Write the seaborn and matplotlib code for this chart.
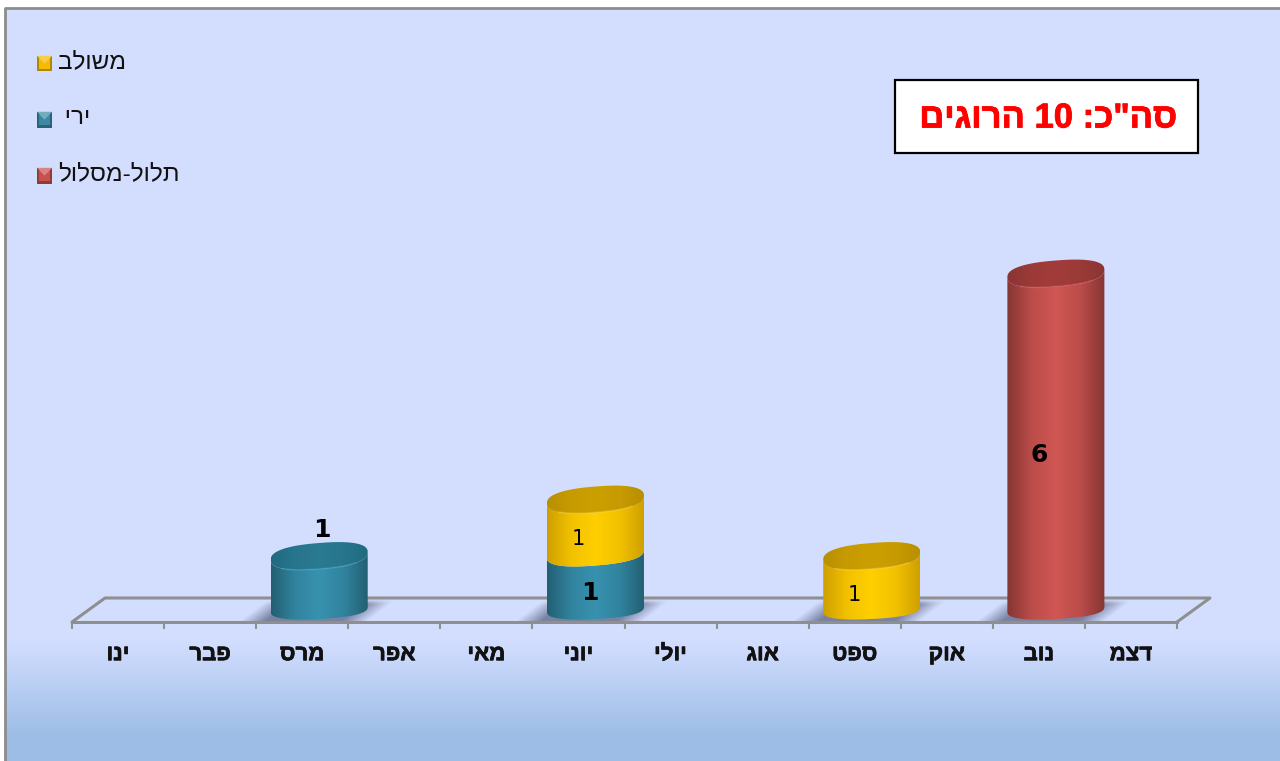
import re

import numpy as np
import matplotlib
matplotlib.use('Agg')
import matplotlib.pyplot as plt
import matplotlib.patheffects as pe
import seaborn as sns
from matplotlib.colors import LinearSegmentedColormap, to_rgb
from matplotlib.legend_handler import HandlerBase
from matplotlib.patches import Patch, PathPatch, Polygon, Rectangle
from matplotlib.path import Path

months = ['ינו', 'פבר', 'מרס', 'אפר', 'מאי', 'יוני', 'יולי', 'אוג', 'ספט', 'אוק', 'נוב', 'דצמ']
shooting = [0, 0, 1, 0, 0, 1, 0, 0, 0, 0, 0, 0]
combined = [0, 0, 0, 0, 0, 1, 0, 0, 1, 0, 0, 0]
high_traj = [0, 0, 0, 0, 0, 0, 0, 0, 0, 0, 6, 0]
shooting_name = 'ירי '
combined_name = 'משולב'
high_traj_name = 'תלול-מסלול'
total_text = 'סה"כ: 10 הרוגים'

W, H = 1280, 761
PX = (1177 - 72) / 12  # pixels per category
PY = 56.5              # pixels per unit
Y0_PX = 612.5          # pixel row of value 0 on the cylinders


def heb(s):
    # matplotlib has no bidi, so flip to visual order but keep numbers readable
    return re.sub(r'\d+', lambda m: m.group()[::-1], s[::-1])


def cyl_cmap(edge, mid):
    e, m = np.array(to_rgb(edge)), np.array(to_rgb(mid))
    shoulder = e + (m - e) * 0.72
    return LinearSegmentedColormap.from_list('c', [e, shoulder, m, shoulder, e], N=256)


STYLES = {
    'teal': dict(side=('#235f73', '#3792af'), top=('#1f6a80', '#2a7a92'), rim='#4aa8c4'),
    'yellow': dict(side=('#cf9f00', '#ffcf00'), top=('#b98f00', '#cc9f00'), rim='#ffd633'),
    'red': dict(side=('#853533', '#d05653'), top=('#8a3533', '#a23c3a'), rim='#d9605c'),
}

sns.set_theme(style='white')
plt.rcParams['font.family'] = ['Liberation Sans', 'DejaVu Sans']

fig = plt.figure(figsize=(W / 100, H / 100), dpi=100, facecolor='white')

# background panel with the blue fade at the bottom
bg = fig.add_axes([5 / W, 0, 1 - 5 / W, 1 - 8 / H])
rows = np.arange(8, H)
fade = np.interp(rows, [640, 735], [0, 1])
top_c, bot_c = np.array(to_rgb('#d3deff')), np.array(to_rgb('#9dbde6'))
grad = (top_c[None, :] * (1 - fade[:, None]) + bot_c[None, :] * fade[:, None])[:, None, :]
bg.imshow(grad, aspect='auto')
bg.axis('off')
fig.add_artist(plt.Line2D([5 / W, 5 / W, 1], [0, 1 - 8 / H, 1 - 8 / H], color='#8c8c8c', lw=2))

y_min, y_max = (Y0_PX - 622) / PY, 7
y_back = (Y0_PX - 598) / PY
ax = fig.add_axes([72 / W, 1 - 622 / H, (1177 - 72) / W, (622 - Y0_PX + 7 * PY) / H])
ax.patch.set_alpha(0)

labels = [heb(m) for m in months]
x_pos = np.arange(len(months))
depth = 33 / PX
dx_bar = 17 / PX
series = [
    (shooting, np.zeros(12), 'teal', shooting_name),
    (combined, np.array(shooting), 'yellow', combined_name),
    (high_traj, np.array(shooting) + np.array(combined), 'red', high_traj_name),
]


def ellipse_xy(cx, cy, a, t, b=13, tilt=3.8, up=0):
    # slightly squarer than a true ellipse, the caps have full shoulders
    c = np.sign(np.cos(t)) * np.abs(np.cos(t)) ** 0.82
    s = np.sign(np.sin(t)) * np.abs(np.sin(t)) ** 0.82
    return cx + a * c / PX, cy + (up + b * s + tilt * c) / PY


def add_shadow(cx):
    # soft sheared shadow on the floor, pixel grid local to the image
    xs = np.linspace(-85, 95, 180)
    ys = np.linspace(-13, 9, 24)
    gx, gy = np.meshgrid(xs, ys)
    shear = -(gy + 3) * 1.25
    left = np.clip((gx - shear + 64) / 26, 0, 1)
    right = np.clip((64 - gx + shear) / 26, 0, 1)
    alpha = left * right * np.clip((gy + 13) / 5, 0, 1) * 0.85
    img = np.zeros(gx.shape + (4,))
    img[..., :3] = to_rgb('#6a7290')
    img[..., 3] = alpha
    ax.imshow(img, extent=(cx + xs[0] / PX, cx + xs[-1] / PX, (Y0_PX - 621) / PY, (Y0_PX - 599) / PY),
              origin='upper', aspect='auto', zorder=1.2)


def gradient_fill(path, x0, x1, y0, y1, colors, z):
    im = ax.imshow(np.linspace(0, 1, 256)[None, :], cmap=cyl_cmap(*colors), vmin=0, vmax=1,
                   extent=(x0, x1, y0, y1), aspect='auto', zorder=z)
    clip = PathPatch(path, transform=ax.transData, fc='none', ec='none')
    ax.add_patch(clip)
    im.set_clip_path(clip)


centers = {}
for i_s, (vals, bottoms, style, name) in enumerate(series):
    n_before = len(ax.patches)
    sns.barplot(x=labels, y=vals, bottom=bottoms, color=STYLES[style]['side'][1], width=97 / PX,
                order=labels, ax=ax, saturation=1)
    bars = ax.patches[n_before:n_before + 12]
    for i, bar in enumerate(bars):
        h = bar.get_height()
        bar.set_visible(False)
        if h <= 0:
            continue
        cx = bar.get_x() + bar.get_width() / 2 + dx_bar
        y0, y1 = bar.get_y(), bar.get_y() + h
        a = bar.get_width() / 2 * PX
        above = sum(s[0][i] for s in series[i_s + 1:])
        centers[(i_s, i)] = (cx, (y0 + y1) / 2)
        if y0 == 0:
            add_shadow(cx)
        # the base sits flatter on the floor than the cap, joints sit in between
        joint = dict(b=11.5, tilt=3.8, up=2)
        low = dict(b=9.5, tilt=2.5, up=3) if y0 == 0 else joint
        high = joint if above else dict(b=13, tilt=3.8)
        t = np.linspace(np.pi, 2 * np.pi, 60)
        bx, by = ellipse_xy(cx, y0, a, t, **low)
        tx, ty = ellipse_xy(cx, y1, a, t[::-1], **high)
        side = Path(np.r_[np.c_[bx, by], np.c_[tx, ty]])
        half = bar.get_width() / 2
        gradient_fill(side, cx - half, cx + half, y0 - 0.5, y1 + 0.5, STYLES[style]['side'], 3 + i_s)
        # top cap only where nothing is stacked above
        if above == 0:
            ex, ey = ellipse_xy(cx, y1, a, np.linspace(0, 2 * np.pi, 120))
            gradient_fill(Path(np.c_[ex, ey]), cx - half, cx + half, y1 - 0.5, y1 + 0.5,
                          STYLES[style]['top'], 3.5 + i_s)
            rx, ry = ellipse_xy(cx, y1, a, np.linspace(1.25 * np.pi, 1.75 * np.pi, 40))
            ax.plot(rx, ry, color=STYLES[style]['rim'], lw=1.3, alpha=0.4, zorder=3.7 + i_s,
                    solid_capstyle='round')

# floor of the 3D chart
floor_c = '#8f8f8f'
ax.plot([-0.5, -0.5 + depth, 11.5 + depth, 11.5],
        [y_min, y_back, y_back, y_min], color=floor_c, lw=2.2, clip_on=False, zorder=1.5)

ax.set_xlim(-0.5, 11.5)
ax.set_ylim(y_min, y_max)
ax.set_xlabel('')
ax.set_ylabel('')
ax.set_yticks([])
for side_name in ['top', 'left', 'right']:
    ax.spines[side_name].set_visible(False)
ax.spines['bottom'].set_color(floor_c)
ax.spines['bottom'].set_linewidth(2.2)
ax.spines['bottom'].set_zorder(2)
ax.set_xticks(x_pos, labels, fontsize=16, fontweight='bold', color='#111111')
ax.set_xticks(np.arange(-0.5, 12, 1), minor=True)
ax.tick_params(axis='x', which='major', length=0, pad=16, bottom=False)
ax.tick_params(axis='x', which='minor', length=5, width=1.5, color=floor_c, bottom=True)
for tl in ax.get_xticklabels():
    tl.set_path_effects([pe.withStroke(linewidth=0.5, foreground='#111111')])

# value labels: (series, month, dx px, dy px, bold)
value_labels = [
    (0, 2, 3, 54, True),
    (0, 5, -5.5, -9, True),
    (1, 5, -17.5, -11, False),
    (1, 8, -17, -11, False),
    (2, 10, -17, -12, True),
]
for i_s, i_m, dx, dy, bold in value_labels:
    value = series[i_s][0][i_m]
    ax.annotate(str(value), xy=centers[(i_s, i_m)], xytext=(dx * 0.72, dy * 0.72),
                textcoords='offset points', ha='center', va='center', zorder=10,
                family='DejaVu Sans', color='black',
                fontsize=18 if bold else 15, fontweight='bold' if bold else 'normal')


class BevelHandler(HandlerBase):
    def create_artists(self, legend, orig_handle, xd, yd, width, height, fontsize, trans):
        c = np.array(orig_handle.get_facecolor()[:3])
        drop = 3  # marker sits a little below the text centre
        x0, y0, x1, y1 = -xd, -yd - drop, -xd + width, -yd + height - drop
        xm, ym = (x0 + x1) / 2, (y0 + y1) / 2
        inset = height * 0.14
        dark = c * 0.72
        light = c + (1 - c) * 0.3
        parts = [
            Polygon([(x0, y0), (x1, y0), (x1, y1), (x0, y1)], fc=dark, ec='none'),
            Polygon([(x0 + inset, y0 + inset), (x1 - inset, y0 + inset), (x1 - inset, y1), (x0 + inset, y1)],
                    fc=c, ec='none'),
            Polygon([(x0, y1), (x1, y1), (xm, ym)], fc=light, ec='none'),
        ]
        for p in parts:
            p.set_transform(trans)
        return parts


handles = [Patch(facecolor='#f5bb00'), Patch(facecolor='#3a8aa3'), Patch(facecolor='#c9504d')]
ax.legend(handles, [heb(combined_name), heb(shooting_name), heb(high_traj_name)],
          handler_map={Patch: BevelHandler()}, loc='upper left',
          bbox_to_anchor=(37 / W, 1 - 51 / H), bbox_transform=fig.transFigure,
          frameon=False, fontsize=17.5, handlelength=0.62, handleheight=0.62, handletextpad=0.25,
          labelspacing=1.4, borderpad=0, borderaxespad=0, labelcolor='#111111')

# total box
fig.add_artist(Rectangle((895 / W, 1 - 153 / H), (1198 - 895) / W, (153 - 80) / H,
                         transform=fig.transFigure, fc='white', ec='black', lw=1.6))
fig.text(1048.5 / W, 1 - 118 / H, heb(total_text), color='#ff0000', fontsize=24.9, fontweight='bold',
         ha='center', va='center', path_effects=[pe.withStroke(linewidth=0.6, foreground='#ff0000')])

fig.savefig('out.png', dpi=100)
